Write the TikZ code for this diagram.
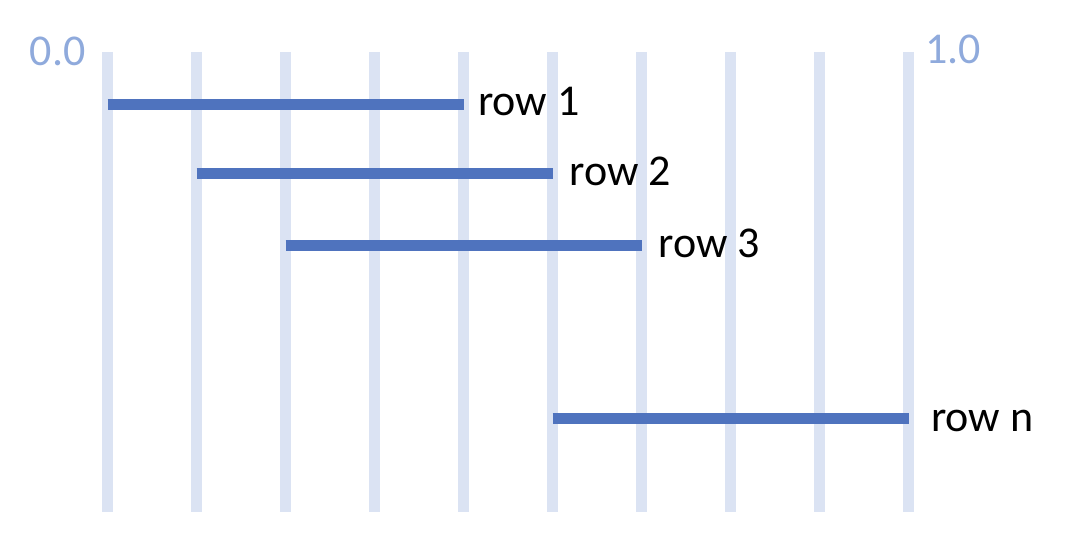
\documentclass[tikz,border=0pt]{standalone}
\usepackage{fontspec}
\setmainfont{Carlito}
\definecolor{gridblue}{HTML}{DBE3F3}
\definecolor{barblue}{HTML}{4F73BE}
\definecolor{axisblue}{HTML}{8FAADC}
\tikzset{
  gridline/.style={draw=gridblue, line width=8.25pt, line cap=butt},
  barline/.style={draw=barblue, line width=8.25pt, line cap=butt},
  rowlabel/.style={inner sep=0pt, anchor=base west, font=\fontsize{33}{36}\selectfont, text=black},
  axislabel/.style={inner sep=0pt, anchor=base west, font=\fontsize{33}{36}\selectfont, text=axisblue}
}
\begin{document}
\begin{tikzpicture}[x=0.75pt,y=-0.75pt]
\useasboundingbox (0,0) rectangle (1066,548);
% grid lines
\foreach \k in {0,...,9} {
  \coordinate (t\k) at ({107.5+89*\k},52);
  \coordinate (u\k) at ({107.5+89*\k},512);
  \draw[gridline] (t\k) -- (u\k);
}
% bar end points
\coordinate (b1s) at (107.5,104.3);
\coordinate (b1e) at (463.5,104.3);
\coordinate (b2s) at (196.5,174);
\coordinate (b2e) at (552.5,174);
\coordinate (b3s) at (285.5,246);
\coordinate (b3e) at (641.5,246);
\coordinate (bns) at (552.5,418.3);
\coordinate (bne) at (908.5,418.3);
\draw[barline] (b1s) -- (b1e);
\draw[barline] (b2s) -- (b2e);
\draw[barline] (b3s) -- (b3e);
\draw[barline] (bns) -- (bne);
% labels
\node[rowlabel] (r1) at (478,115.5) {row 1};
\node[rowlabel] (r2) at (569.5,186) {row 2};
\node[rowlabel] (r3) at (658.5,258) {row 3};
\node[rowlabel] (rn) at (931,431.5) {row n};
\node[axislabel] (a0) at (29.5,66) {0.0};
\node[axislabel] (a1) at (925,64) {1.0};
\end{tikzpicture}
\end{document}
